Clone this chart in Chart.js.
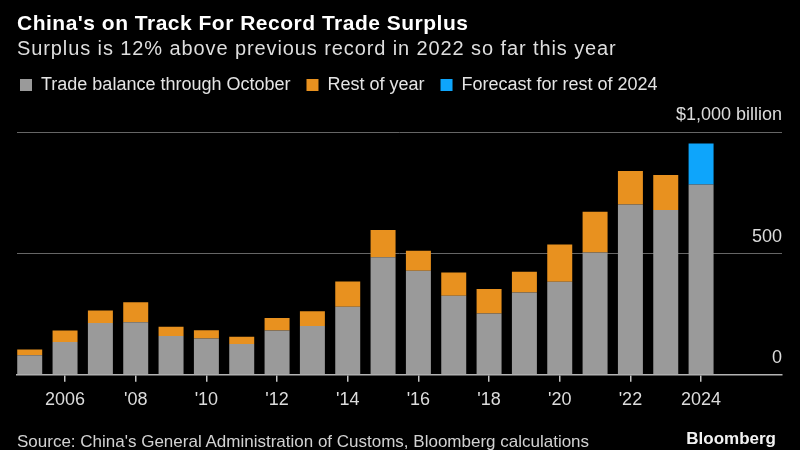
<!DOCTYPE html>
<html>
<head>
<meta charset="utf-8">
<script src="https://cdn.jsdelivr.net/npm/chart.js@4/dist/chart.umd.min.js"></script>
<style>
  html, body { margin: 0; padding: 0; background: #000; }
  #wrap { position: relative; width: 800px; height: 450px; background: #000; overflow: hidden; font-family: "Liberation Sans", Arial, Helvetica, sans-serif; }
  #c { position: absolute; left: 0; top: 0; }
  .t { position: absolute; white-space: nowrap; line-height: 1; }
  #title { left: 17px; top: 11.5px; font-size: 21px; letter-spacing: 0.5px; font-weight: bold; color: #fff; }
  #subtitle { left: 17px; top: 38px; font-size: 20px; letter-spacing: 0.9px; color: #dedede; }
  #source { left: 17px; top: 432.5px; font-size: 17px; color: #d2d2d2; }
  #brand { right: 24px; top: 430px; font-size: 17px; font-weight: bold; color: #f2f2f2; }
</style>
</head>
<body>
<div id="wrap">
  <canvas id="c" width="800" height="450"></canvas>
  <div class="t" id="title">China's on Track For Record Trade Surplus</div>
  <div class="t" id="subtitle">Surplus is 12% above previous record in 2022 so far this year</div>
  <div class="t" id="source">Source: China's General Administration of Customs, Bloomberg calculations</div>
  <div class="t" id="brand">Bloomberg</div>
</div>
<script>
// ---- data (billions of US dollars) ----
const years = [2005, 2006, 2007, 2008, 2009, 2010, 2011, 2012, 2013, 2014,
               2015, 2016, 2017, 2018, 2019, 2020, 2021, 2022, 2023, 2024];
const throughOctober = [80, 135, 213, 217, 160, 149, 127, 183, 201, 281,
                        485, 429, 326, 253, 339, 384, 505, 703, 680, 785];
const restOfYear = [24, 47, 52, 82, 38, 35, 30, 51, 61, 104,
                    112, 83, 96, 101, 86, 154, 168, 138, 145, null];
const forecastRest2024 = [null, null, null, null, null, null, null, null, null, null,
                          null, null, null, null, null, null, null, null, null, 170];
const seriesNames = ["Trade balance through October", "Rest of year", "Forecast for rest of 2024"];
const xTickYears = [2006, 2008, 2010, 2012, 2014, 2016, 2018, 2020, 2022, 2024];
const xTickLabels = ["2006", "'08", "'10", "'12", "'14", "'16", "'18", "'20", "'22", "2024"];
const yTickValues = [0, 500, 1000];
const yTickLabels = ["0", "500", "$1,000 billion"];

const FONT = '"Liberation Sans", Arial, Helvetica, sans-serif';
const GRAY = '#9a9a9a', ORANGE = '#e8911f', BLUE = '#0ea5fb';

// adds empty space under the legend row (gap between legend and plot)
const legendGap = {
  id: 'legendGap',
  beforeLayout(chart) {
    const lg = chart.legend;
    if (lg && !lg.$gap) {
      const origFit = lg.fit;
      lg.fit = function () { origFit.call(this); this.height += 28.5; };
      lg.$gap = true;
    }
  }
};

new Chart(document.getElementById('c'), {
  type: 'bar',
  data: {
    labels: years,
    datasets: [
      { label: seriesNames[0], data: throughOctober, backgroundColor: GRAY, stack: 's' },
      { label: seriesNames[1], data: restOfYear, backgroundColor: ORANGE, stack: 's' },
      { label: seriesNames[2], data: forecastRest2024, backgroundColor: BLUE, stack: 's' }
    ]
  },
  plugins: [legendGap],
  options: {
    responsive: false,
    animation: false,
    devicePixelRatio: 1,
    layout: { padding: { left: 4, right: 18, top: 60, bottom: 31.7 } },
    datasets: { bar: { categoryPercentage: 1, barPercentage: 0.707, borderWidth: 0 } },
    plugins: {
      title: { display: false },
      tooltip: { enabled: false },
      legend: {
        display: true,
        position: 'top',
        align: 'start',
        labels: {
          boxWidth: 12, boxHeight: 12, padding: 16,
          color: '#e4e4e4',
          font: { family: FONT, size: 18 }
        }
      }
    },
    scales: {
      x: {
        type: 'linear',
        min: 2004.64,
        max: 2026.29,
        offset: false,
        grid: { display: true, offset: false, drawOnChartArea: false, drawTicks: true, tickLength: 7, color: '#c4c4c4', lineWidth: 1.5 },
        border: { display: true, color: '#b4b4b4', width: 1.5 },
        afterBuildTicks: (scale) => { scale.ticks = xTickYears.map(v => ({ value: v })); },
        afterFit: (scale) => { scale.paddingLeft = 17; scale.paddingRight = 0; },
        ticks: {
          padding: 7.5,
          color: '#dcdcdc',
          font: { family: FONT, size: 18 },
          maxRotation: 0,
          autoSkip: false,
          callback: (v) => { const i = xTickYears.indexOf(v); return i >= 0 ? xTickLabels[i] : ''; }
        }
      },
      y: {
        position: 'right',
        stacked: true,
        min: 0,
        max: 1000,
        afterBuildTicks: (scale) => { scale.ticks = yTickValues.map(v => ({ value: v })); },
        grid: {
          drawTicks: false,
          lineWidth: 1,
          color: (ctx) => (ctx.tick && ctx.tick.value === 0) ? 'rgba(0,0,0,0)' : '#666666'
        },
        border: { display: false },
        ticks: {
          mirror: true,
          padding: 0,
          labelOffset: -17,
          color: '#dcdcdc',
          font: { family: FONT, size: 18 },
          callback: (v) => { const i = yTickValues.indexOf(v); return i >= 0 ? yTickLabels[i] : ''; }
        }
      }
    }
  }
});
</script>
</body>
</html>
